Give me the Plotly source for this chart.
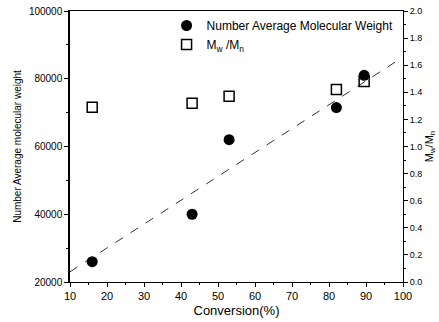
import plotly.graph_objects as go

conversion_mn = [16, 43, 53, 82, 89.5]
mn_values = [26000, 40000, 62000, 71500, 81000]
conversion_pdi = [16, 43, 53, 82, 89.5]
pdi_values = [1.29, 1.32, 1.37, 1.42, 1.48]
fit_x = [10, 98]
fit_y = [23000, 85000]

FONT = "Arial, Liberation Sans, sans-serif"

fig = go.Figure()
fig.add_trace(go.Scatter(x=fit_x, y=fit_y, mode="lines",
                         line=dict(color="#333333", width=1, dash="dash"),
                         showlegend=False, hoverinfo="skip"))
fig.add_trace(go.Scatter(x=conversion_mn, y=mn_values, mode="markers",
                         name="Number Average Molecular Weight",
                         marker=dict(symbol="circle", size=11, color="black")))
fig.add_trace(go.Scatter(x=conversion_pdi, y=pdi_values, mode="markers",
                         name="M<sub>w</sub> /M<sub>n</sub>", yaxis="y2",
                         marker=dict(symbol="square-open", size=10, color="black",
                                     line=dict(width=1.5))))

fig.add_annotation(text="M<sub>w</sub>/M<sub>n</sub>", xref="paper", yref="paper",
                   x=1.08, y=0.5, xanchor="center", yanchor="middle",
                   textangle=-90, showarrow=False, font=dict(size=11, family=FONT))

fig.update_layout(
    width=439, height=322,
    margin=dict(l=70, r=36, t=11, b=40, autoexpand=False),
    plot_bgcolor="white", paper_bgcolor="white",
    font=dict(family=FONT, color="black"),
    showlegend=True,
    legend=dict(x=0.29, y=1.0, xanchor="left", yanchor="top",
                bgcolor="rgba(0,0,0,0)", font=dict(size=12, family=FONT),
                tracegroupgap=0, itemwidth=30),
    xaxis=dict(range=[10, 100], dtick=10, tick0=10, showline=True, linecolor="black",
               linewidth=1, mirror=True, ticks="outside", ticklen=4, tickcolor="black",
               minor=dict(dtick=5, ticks="outside", ticklen=2, tickcolor="black"),
               showgrid=False, zeroline=False, automargin=False,
               tickfont=dict(size=11),
               title=dict(text="Conversion(%)", font=dict(size=13), standoff=4)),
    yaxis=dict(range=[20000, 100000], dtick=20000, tickformat="d", showline=True,
               linecolor="black", linewidth=1.5, ticks="outside", ticklen=4, tickcolor="black",
               minor=dict(dtick=10000, ticks="outside", ticklen=2, tickcolor="black"),
               showgrid=False, zeroline=False, automargin=False,
               tickfont=dict(size=10),
               title=dict(text="Number Average molecular weight", font=dict(size=10), standoff=5)),
    yaxis2=dict(range=[0, 2.0], dtick=0.2, tickformat=".1f", overlaying="y", side="right",
                showline=True, linecolor="black", linewidth=1, ticks="outside", ticklen=4,
                tickcolor="black", automargin=False,
                minor=dict(dtick=0.1, ticks="outside", ticklen=2, tickcolor="black"),
                showgrid=False, zeroline=False,
                tickfont=dict(size=9)),
)

fig.write_html("out.html", config={"displayModeBar": False},
               post_script="document.body.style.margin='0';document.body.style.overflow='hidden';")
